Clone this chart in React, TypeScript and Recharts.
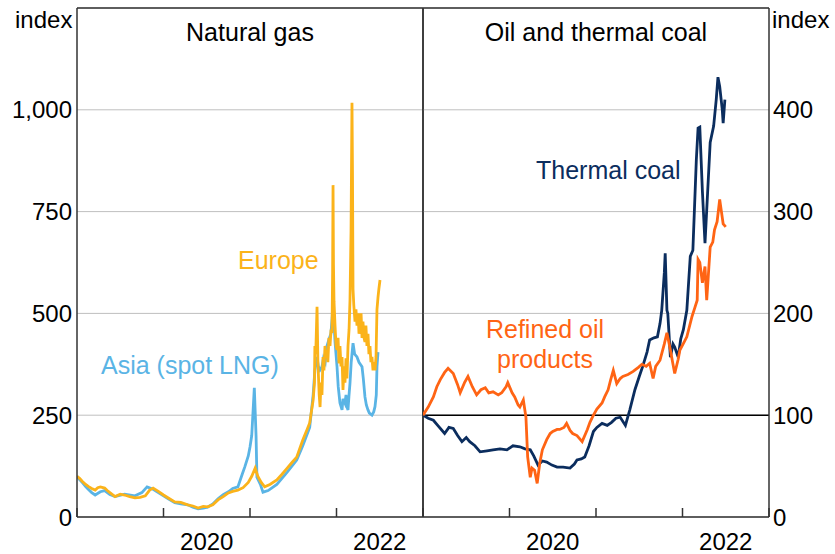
import { CartesianGrid, Line, LineChart, ReferenceLine, XAxis, YAxis } from "recharts";
import type { ReactNode } from "react";

const FONT = '"Liberation Sans", Arial, sans-serif';

// Natural gas prices, index
const europeT = [
  2019.0, 2019.03, 2019.06, 2019.1, 2019.13, 2019.17, 2019.21, 2019.24, 2019.27, 2019.32,
  2019.35, 2019.38, 2019.44, 2019.5, 2019.55, 2019.61, 2019.67, 2019.73, 2019.79, 2019.84,
  2019.88, 2019.94, 2020.0, 2020.06, 2020.13, 2020.2, 2020.28, 2020.34, 2020.4, 2020.46,
  2020.51, 2020.57, 2020.63, 2020.69, 2020.75, 2020.8, 2020.86, 2020.92, 2020.98, 2021.02,
  2021.06, 2021.09, 2021.13, 2021.17, 2021.23, 2021.31, 2021.37, 2021.43, 2021.49, 2021.54,
  2021.61, 2021.66, 2021.69, 2021.73, 2021.745, 2021.75, 2021.76, 2021.775, 2021.785, 2021.8,
  2021.81, 2021.82, 2021.832, 2021.844, 2021.855, 2021.867, 2021.878, 2021.89, 2021.9, 2021.912,
  2021.925, 2021.937, 2021.948, 2021.955, 2021.96, 2021.965, 2021.971, 2021.983, 2021.995, 2022.006,
  2022.018, 2022.029, 2022.04, 2022.052, 2022.064, 2022.075, 2022.087, 2022.098, 2022.11, 2022.121,
  2022.133, 2022.145, 2022.156, 2022.168, 2022.179, 2022.185, 2022.191, 2022.2, 2022.214, 2022.225,
  2022.237, 2022.25, 2022.26, 2022.272, 2022.284, 2022.295, 2022.306, 2022.318, 2022.329, 2022.34,
  2022.352, 2022.364, 2022.375, 2022.387, 2022.398, 2022.41, 2022.422, 2022.433, 2022.445, 2022.457,
  2022.468, 2022.48, 2022.49, 2022.503,
];
const europeV = [
  100, 95, 88, 80, 75, 70, 66, 72, 74, 71,
  65, 60, 50, 56, 54, 50, 47, 48, 52, 66,
  71, 63, 54, 46, 37, 36, 30, 27, 22, 26,
  25, 30, 42, 50, 59, 63, 66, 72, 85, 100,
  120, 100, 85, 74, 80, 91, 105, 120, 135, 147,
  189, 215, 231, 287, 330, 420, 400, 516, 380, 300,
  270, 330, 300, 393, 360, 420, 390, 410, 380, 440,
  420, 460, 452, 600, 815, 620, 530, 470, 420, 410,
  440, 377, 420, 370, 393, 312, 370, 330, 390, 340,
  420, 460, 533, 700, 1017, 840, 560, 520, 480, 510,
  470, 500, 450, 467, 500, 440, 480, 440, 430, 470,
  420, 450, 400, 420, 380, 393, 360, 380, 360, 393,
  510, 540, 560, 582,
];

const asiaT = [
  2019.0, 2019.03, 2019.06, 2019.1, 2019.13, 2019.17, 2019.21, 2019.27, 2019.32, 2019.38,
  2019.44, 2019.55, 2019.67, 2019.75, 2019.81, 2019.88, 2019.94, 2020.0, 2020.06, 2020.13,
  2020.2, 2020.28, 2020.34, 2020.4, 2020.46, 2020.51, 2020.57, 2020.63, 2020.69, 2020.75,
  2020.8, 2020.86, 2020.91, 2020.94, 2020.98, 2021.0, 2021.02, 2021.05, 2021.07, 2021.08,
  2021.12, 2021.15, 2021.21, 2021.31, 2021.43, 2021.54, 2021.61, 2021.69, 2021.73, 2021.75,
  2021.775, 2021.79, 2021.809, 2021.832, 2021.85, 2021.87, 2021.89, 2021.91, 2021.935, 2021.95,
  2021.96, 2021.97, 2021.983, 2022.006, 2022.02, 2022.04, 2022.064, 2022.075, 2022.098, 2022.11,
  2022.121, 2022.133, 2022.145, 2022.156, 2022.17, 2022.191, 2022.21, 2022.237, 2022.26, 2022.295,
  2022.31, 2022.329, 2022.345, 2022.364, 2022.38, 2022.41, 2022.43, 2022.445, 2022.46, 2022.468,
  2022.48,
];
const asiaV = [
  100, 92, 85, 75, 68, 60, 54, 62, 65, 55,
  50, 56, 52, 60, 74, 68, 60, 52, 44, 35,
  32, 30, 24, 20, 22, 24, 32, 45, 55, 62,
  70, 74, 105, 123, 150, 172, 200, 317, 200, 98,
  80, 61, 65, 80, 110, 140, 175, 220, 300, 360,
  393, 370, 361, 369, 390, 380, 420, 434, 450, 490,
  533, 480, 430, 369, 320, 280, 263, 290, 279, 300,
  270, 263, 300, 329, 380, 427, 400, 393, 380, 369,
  340, 295, 275, 263, 255, 250, 258, 271, 300, 369,
  405,
];

// Oil and thermal coal prices, index
const coalT = [
  2019.0, 2019.06, 2019.12, 2019.17, 2019.25, 2019.3, 2019.35, 2019.4, 2019.45, 2019.5,
  2019.54, 2019.6, 2019.66, 2019.74, 2019.81, 2019.89, 2019.97, 2020.04, 2020.12, 2020.18,
  2020.24, 2020.28, 2020.33, 2020.38, 2020.43, 2020.49, 2020.55, 2020.62, 2020.7, 2020.75,
  2020.78, 2020.83, 2020.87, 2020.92, 2020.97, 2021.01, 2021.07, 2021.13, 2021.18, 2021.23,
  2021.28, 2021.34, 2021.39, 2021.45, 2021.5, 2021.54, 2021.59, 2021.62, 2021.67, 2021.71,
  2021.74, 2021.76, 2021.79, 2021.8, 2021.82, 2021.83, 2021.86, 2021.89, 2021.91, 2021.95,
  2021.98, 2022.01, 2022.05, 2022.09, 2022.12, 2022.16, 2022.18, 2022.2, 2022.23, 2022.26,
  2022.29, 2022.32, 2022.36, 2022.39, 2022.41, 2022.43, 2022.46, 2022.47, 2022.49,
];
const coalV = [
  100, 97, 95, 90, 82, 88, 87, 80, 74, 78,
  74, 70, 64, 65, 66, 67, 66, 70, 69, 67,
  66, 60, 51, 55, 54, 51, 49, 49, 48, 52,
  56, 57, 59, 70, 84, 88, 92, 90, 93, 97,
  98, 90, 105, 125, 138, 148, 162, 174, 176, 177,
  190, 203, 240, 259, 203, 200, 157, 170, 167, 157,
  175, 184, 203, 256, 262, 351, 382, 383, 320, 269,
  318, 368, 384, 410, 432, 423, 400, 387, 410,
];

const oilT = [
  2019.0, 2019.06, 2019.12, 2019.16, 2019.2, 2019.25, 2019.29, 2019.35, 2019.4, 2019.43,
  2019.48, 2019.52, 2019.57, 2019.62, 2019.67, 2019.72, 2019.76, 2019.81, 2019.87, 2019.91,
  2019.96, 2019.98, 2020.03, 2020.06, 2020.1, 2020.12, 2020.16, 2020.19, 2020.21, 2020.24,
  2020.26, 2020.29, 2020.32, 2020.35, 2020.38, 2020.43, 2020.47, 2020.5, 2020.55, 2020.58,
  2020.63, 2020.66, 2020.7, 2020.73, 2020.78, 2020.84, 2020.9, 2020.93, 2020.97, 2021.01,
  2021.07, 2021.1, 2021.14, 2021.17, 2021.2, 2021.24, 2021.28, 2021.31, 2021.37, 2021.43,
  2021.49, 2021.53, 2021.58, 2021.62, 2021.66, 2021.69, 2021.74, 2021.79, 2021.82, 2021.86,
  2021.89, 2021.91, 2021.95, 2021.97, 2022.02, 2022.05, 2022.11, 2022.14, 2022.17, 2022.18,
  2022.2, 2022.23, 2022.26, 2022.28, 2022.32, 2022.35, 2022.37, 2022.4, 2022.43, 2022.45,
  2022.47, 2022.5,
];
const oilV = [
  100, 108, 118, 128, 135, 142, 146, 141, 130, 122,
  132, 138, 128, 120, 125, 127, 122, 123, 120, 122,
  128, 132, 122, 118, 110, 108, 115, 98, 59, 39,
  48, 46, 33, 53, 66, 76, 82, 84, 86, 86,
  88, 92, 85, 82, 80, 74, 86, 93, 100, 106,
  112, 118, 125, 135, 144, 131, 136, 138, 140, 143,
  147, 150, 148, 151, 136, 148, 154, 170, 181, 164,
  150, 141, 155, 164, 172, 177, 197, 205, 213, 253,
  250, 230, 246, 213, 265, 270, 282, 290, 312, 300,
  288, 285,
];

const yearTicks = [2019, 2020, 2021, 2022, 2023];
const gasTicks = [0, 250, 500, 750, 1000];
const oilCoalTicks = [0, 100, 200, 300, 400];

const toRows = (t: number[], v: number[]) => t.map((x, i) => ({ t: x, v: v[i] }));
const europe = toRows(europeT, europeV);
const asia = toRows(asiaT, asiaV);
const coal = toRows(coalT, coalV);
const oil = toRows(oilT, oilV);

const PANEL_W = 346;
const FRAME = "#333";
const LINE_W = 2.8;

function YearTick({ x, y, payload }: any) {
  const year = payload.value as number;
  return (
    <g>
      <line x1={x} y1={y} x2={x} y2={y - 9} stroke={FRAME} strokeWidth={1.5} />
      {year % 2 === 0 && year < 2023 ? (
        <text
          x={x + PANEL_W / 8}
          y={y + 33}
          textAnchor="middle"
          fontSize={24}
          fontFamily={FONT}
          fill="#000"
        >
          {year}
        </text>
      ) : null}
    </g>
  );
}

function Note({
  x,
  baseline,
  color = "#000",
  size = 25,
  center = false,
  children,
}: {
  x: number;
  baseline: number;
  color?: string;
  size?: number;
  center?: boolean;
  children: ReactNode;
}) {
  return (
    <div
      style={{
        position: "absolute",
        left: x,
        top: baseline - 0.8465 * size,
        fontSize: size,
        lineHeight: `${size}px`,
        fontFamily: FONT,
        color,
        whiteSpace: "nowrap",
        transform: center ? "translateX(-50%)" : undefined,
        pointerEvents: "none",
      }}
    >
      {children}
    </div>
  );
}

const tickStyle = { fontSize: 24, fill: "#000", fontFamily: FONT };

export default function App() {
  return (
    <div
      style={{
        position: "absolute",
        left: 0,
        top: 0,
        width: 835,
        height: 554,
        background: "#fff",
        overflow: "hidden",
      }}
    >
      <div style={{ position: "absolute", left: 0, top: 0 }}>
        <LineChart width={425} height={554} margin={{ top: 8, right: 2, left: 0, bottom: 0 }}>
          <CartesianGrid vertical={false} stroke="#BFBFBF" />
          <XAxis
            dataKey="t"
            type="number"
            domain={[2019, 2023]}
            ticks={yearTicks}
            interval={0}
            height={37}
            tickSize={0}
            tickMargin={0}
            tickLine={false}
            tick={<YearTick />}
            axisLine={{ stroke: FRAME, strokeWidth: 1.5 }}
            allowDataOverflow
          />
          <YAxis
            type="number"
            domain={[0, 1250]}
            ticks={gasTicks}
            width={77}
            tickSize={0}
            tickMargin={5}
            tickLine={false}
            axisLine={{ stroke: FRAME, strokeWidth: 1.5 }}
            tick={tickStyle}
            tickFormatter={(v) => Number(v).toLocaleString("en-US")}
            allowDataOverflow
          />
          <ReferenceLine y={1250} stroke={FRAME} strokeWidth={1.5} />
          <ReferenceLine x={2023} stroke={FRAME} strokeWidth={1.5} />
          <Line
            data={asia}
            dataKey="v"
            type="linear"
            stroke="#5AB4E5"
            strokeWidth={LINE_W}
            dot={false}
            isAnimationActive={false}
          />
          <Line
            data={europe}
            dataKey="v"
            type="linear"
            stroke="#FBB31A"
            strokeWidth={LINE_W}
            dot={false}
            isAnimationActive={false}
          />
        </LineChart>
      </div>

      <div style={{ position: "absolute", left: 421, top: 0 }}>
        <LineChart width={414} height={554} margin={{ top: 8, right: 0, left: 2, bottom: 0 }}>
          <CartesianGrid vertical={false} stroke="#BFBFBF" />
          <XAxis
            dataKey="t"
            type="number"
            domain={[2019, 2023]}
            ticks={yearTicks}
            interval={0}
            height={37}
            tickSize={0}
            tickMargin={0}
            tickLine={false}
            tick={<YearTick />}
            axisLine={{ stroke: FRAME, strokeWidth: 1.5 }}
            allowDataOverflow
          />
          <YAxis
            orientation="right"
            type="number"
            domain={[0, 500]}
            ticks={oilCoalTicks}
            width={66}
            tickSize={0}
            tickMargin={4}
            tickLine={false}
            axisLine={{ stroke: FRAME, strokeWidth: 1.5 }}
            tick={{ ...tickStyle, textAnchor: "start" }}
            allowDataOverflow
          />
          <ReferenceLine y={500} stroke={FRAME} strokeWidth={1.5} />
          <ReferenceLine x={2019} stroke={FRAME} strokeWidth={1.5} />
          <ReferenceLine y={100} stroke="#000" strokeWidth={1.5} />
          <Line
            data={coal}
            dataKey="v"
            type="linear"
            stroke="#0B2D5E"
            strokeWidth={LINE_W}
            dot={false}
            isAnimationActive={false}
          />
          <Line
            data={oil}
            dataKey="v"
            type="linear"
            stroke="#FF6414"
            strokeWidth={LINE_W}
            dot={false}
            isAnimationActive={false}
          />
        </LineChart>
      </div>

      <Note x={15} baseline={28} size={24}>index</Note>
      <Note x={772} baseline={28} size={24}>index</Note>
      <Note x={250} baseline={41} center>Natural gas</Note>
      <Note x={596} baseline={41} center>Oil and thermal coal</Note>
      <Note x={238} baseline={269} color="#FBB31A">Europe</Note>
      <Note x={101} baseline={374} color="#5AB4E5">Asia (spot LNG)</Note>
      <Note x={536} baseline={179} color="#0B2D5E">Thermal coal</Note>
      <Note x={545} baseline={338} color="#FF6414" center>Refined oil</Note>
      <Note x={545} baseline={368} color="#FF6414" center>products</Note>
    </div>
  );
}
